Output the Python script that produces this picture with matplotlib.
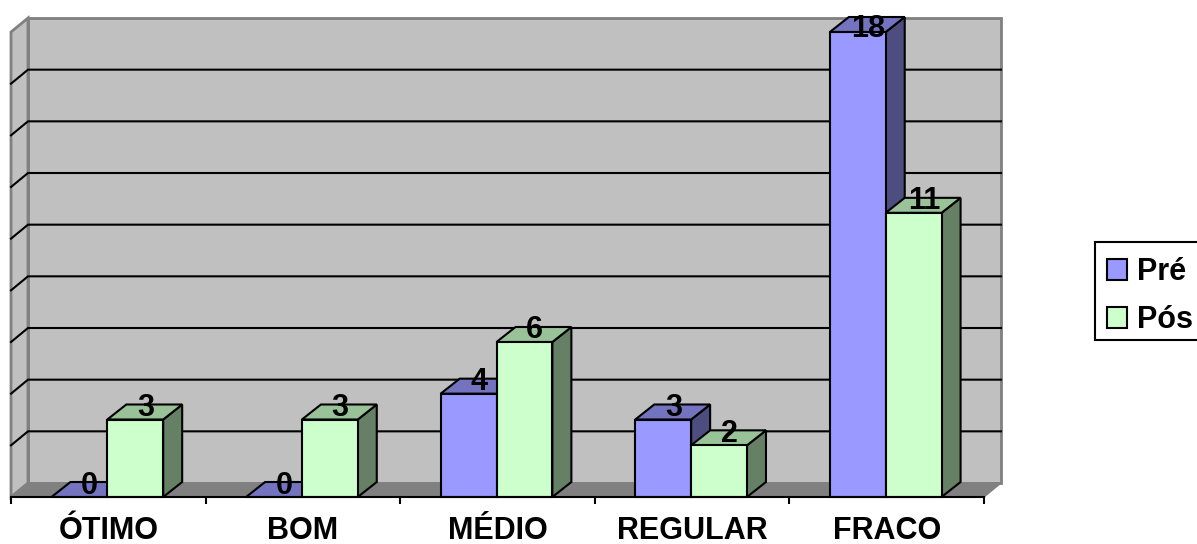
import matplotlib
matplotlib.use("Agg")
import matplotlib.pyplot as plt
from matplotlib.patches import Patch, Polygon, Rectangle

plt.rcParams["font.family"] = ["Liberation Sans", "DejaVu Sans"]
plt.rcParams["font.weight"] = "bold"

categories = ["ÓTIMO", "BOM", "MÉDIO", "REGULAR", "FRACO"]
pre_values = [0, 0, 4, 3, 18]
pos_values = [3, 3, 6, 2, 11]
series_names = ["Pré", "Pós"]
grid_values = [2, 4, 6, 8, 10, 12, 14, 16]

W, H = 1197, 544
LEFT, RIGHT, FLOOR, TOP = 11, 984, 497, 32
Y_MAX = 18
BAR_WIDTH = 0.287
BAR_SHIFT = -0.005
WALL_DX = 17 / ((RIGHT - LEFT) / 5)
WALL_DY = 14 / ((FLOOR - TOP) / Y_MAX)
BAR_DX = 19 / ((RIGHT - LEFT) / 5)
BAR_DY = 15 / ((FLOOR - TOP) / Y_MAX)
LABEL_CEILING = 18.27

WALL_GRAY = "#c0c0c0"
EDGE_GRAY = "#808080"
PRE = ("#9999ff", "#7373bf", "#4d4d80")
POS = ("#ccffcc", "#99c299", "#668066")

fig = plt.figure(figsize=(W / 100, H / 100), dpi=100)
ax = fig.add_axes([LEFT / W, 1 - FLOOR / H, (RIGHT - LEFT) / W, (FLOOR - TOP) / H])
ax.set_xlim(0, 5)
ax.set_ylim(0, Y_MAX)
ax.patch.set_visible(False)


def poly(points, face, edge, lw=1.5, z=1):
    ax.add_patch(Polygon(points, closed=True, facecolor=face, edgecolor=edge,
                         linewidth=lw, zorder=z, clip_on=False, joinstyle="miter"))


# Chart box: back wall, side wall and floor
poly([(WALL_DX, WALL_DY), (5 + WALL_DX, WALL_DY),
      (5 + WALL_DX, Y_MAX + WALL_DY), (WALL_DX, Y_MAX + WALL_DY)], WALL_GRAY, EDGE_GRAY, 2)
poly([(0, 0), (WALL_DX, WALL_DY), (WALL_DX, Y_MAX + WALL_DY), (0, Y_MAX)],
     WALL_GRAY, EDGE_GRAY, 2)
poly([(0, 0), (5, 0), (5 + WALL_DX, WALL_DY), (WALL_DX, WALL_DY)], EDGE_GRAY, EDGE_GRAY, 1)

# Gridlines wrap from the back wall onto the side wall
for g in grid_values:
    ax.plot([0, WALL_DX, 5 + WALL_DX], [g, g + WALL_DY, g + WALL_DY],
            color="black", lw=1.5, zorder=2, clip_on=False, solid_joinstyle="miter")


def draw_bar(x0, value, colors, z):
    x1 = x0 + BAR_WIDTH
    front, top, side = colors
    poly([(x1, 0), (x1 + BAR_DX, BAR_DY), (x1 + BAR_DX, value + BAR_DY), (x1, value)],
         side, "black", 1.5, z)
    poly([(x0, value), (x1, value), (x1 + BAR_DX, value + BAR_DY), (x0 + BAR_DX, value + BAR_DY)],
         top, "black", 1.5, z)
    if value > 0:
        ax.bar(x0, value, BAR_WIDTH, align="edge", facecolor=front, edgecolor="black",
               linewidth=1.5, zorder=z, clip_on=False)


def draw_label(x0, value):
    ax.text(x0 + BAR_WIDTH / 2 + BAR_DX / 2 + 0.004, min(value + BAR_DY, LABEL_CEILING), str(value),
            ha="center", va="center_baseline", fontsize=22, color="black", zorder=30, clip_on=False)


for i, (pre, pos) in enumerate(zip(pre_values, pos_values)):
    mid = i + 0.5 + BAR_SHIFT
    draw_bar(mid - BAR_WIDTH, pre, PRE, 3 + 2 * i)
    draw_bar(mid, pos, POS, 4 + 2 * i)
    draw_label(mid - BAR_WIDTH, pre)
    draw_label(mid, pos)

# Axis: only the front floor edge is drawn, category names sit between ticks
for name, spine in ax.spines.items():
    spine.set_visible(name == "bottom")
ax.spines["bottom"].set_linewidth(1.5)
ax.spines["bottom"].set_zorder(20)
ax.set_yticks([])
ax.set_xticks(range(6))
ax.set_xticklabels([])
ax.set_xticks([i + 0.5 for i in range(5)], minor=True)
ax.set_xticklabels(categories, minor=True, fontsize=22, fontweight="bold")
ax.tick_params(axis="x", which="major", length=5, width=1.5, direction="out")
ax.tick_params(axis="x", which="minor", length=0, pad=13.5)

# Legend box behind the axes, with the entries laid out inside it
fig.add_artist(Rectangle((1095 / W, 1 - 340 / H), 110 / W, 98 / H, transform=fig.transFigure,
                         facecolor="white", edgecolor="black", linewidth=1.5, zorder=-1))
legend = ax.legend(
    handles=[Patch(facecolor=PRE[0], edgecolor="black", linewidth=1.5, label=series_names[0]),
             Patch(facecolor=POS[0], edgecolor="black", linewidth=1.5, label=series_names[1])],
    loc="upper left", bbox_to_anchor=(1107 / W, 1 - 257 / H), bbox_transform=fig.transFigure,
    borderaxespad=0, borderpad=0, fontsize=22, frameon=False,
    handlelength=0.66, handleheight=0.66, handletextpad=0.33, labelspacing=0.59)
legend.set_zorder(40)

fig.savefig("out.png", dpi=100)
